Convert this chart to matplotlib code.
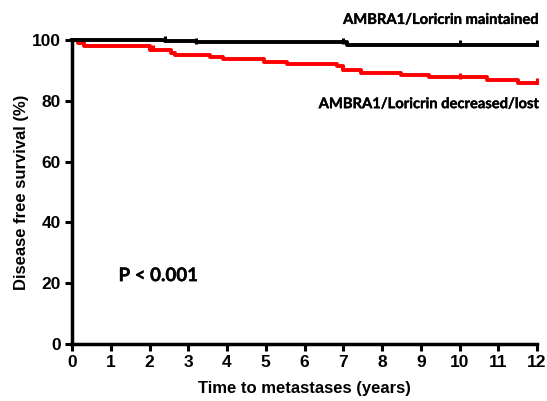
import matplotlib
matplotlib.use("Agg")
import matplotlib.pyplot as plt
import matplotlib.patheffects as pe

plt.rcParams['font.family'] = ['Liberation Sans', 'DejaVu Sans']

# step curves (time in years, survival in %)
maint_t = [0, 2.4, 3.2, 7.1, 12.0]
maint_s = [100, 99.6, 99.2, 98.5, 98.5]
maint_cens_t = [2.4, 3.2, 7.0, 10.0, 12.0]
maint_cens_s = [99.6, 99.2, 99.2, 98.5, 98.5]

lost_t = [0, 0.15, 0.3, 2.0, 2.55, 2.65, 3.55, 3.9, 4.95, 5.55, 6.85, 7.0, 7.45, 8.5, 9.2, 10.7, 11.5, 12.0]
lost_s = [100, 99.0, 98.0, 96.8, 95.8, 95.1, 94.3, 93.6, 92.9, 92.2, 91.3, 90.2, 89.3, 88.5, 87.7, 86.8, 85.8, 85.8]
lost_cens_t = [2.1, 7.0, 10.0, 12.0]
lost_cens_s = [96.8, 90.2, 87.7, 85.8]

fig = plt.figure(figsize=(5.47, 4.01), dpi=100)
ax = fig.add_axes([72/547, 1-344/401, 465/547, 304/401])

ax.step(maint_t, maint_s, where='post', color='black', lw=2.8, clip_on=False, zorder=4)
ax.plot(maint_cens_t, [s + 0.6 for s in maint_cens_s], ls='none', marker='|', ms=5,
        mew=2.2, color='black', clip_on=False, zorder=4)
ax.step(lost_t, lost_s, where='post', color='#ff0000', lw=2.8, clip_on=False, zorder=3)
ax.plot(lost_cens_t, [s + 0.6 for s in lost_cens_s], ls='none', marker='|', ms=5,
        mew=2.2, color='#ff0000', clip_on=False, zorder=3)

ax.set_xlim(0, 12)
ax.set_ylim(0, 100)
ax.set_xticks(range(0, 13))
ax.set_yticks(range(0, 101, 20))
for s in ['top', 'right']:
    ax.spines[s].set_visible(False)
for s in ['left', 'bottom']:
    ax.spines[s].set_linewidth(2.5)
ax.tick_params(width=2.2, length=5, labelsize=12.5, pad=3)
for lab in ax.get_xticklabels() + ax.get_yticklabels():
    lab.set_fontweight('bold')

ax.set_xlabel('Time to metastases (years)', fontsize=12, fontweight='bold', labelpad=8)
ax.set_ylabel('Disease free survival (%)', fontsize=12, fontweight='bold', labelpad=2)

note_font = ['Lato', 'DejaVu Sans']
thick = [pe.withStroke(linewidth=0.25, foreground='black')]
ax.text(12.07, 104.3, 'AMBRA1/Loricrin maintained', ha='right', va='bottom',
        fontsize=10.6, fontweight='bold', family=note_font, path_effects=thick)
ax.text(12.07, 81.2, 'AMBRA1/Loricrin decreased/lost', ha='right', va='top',
        fontsize=10.6, fontweight='bold', family=note_font, path_effects=thick)
ax.text(1.2, 22.5, 'P < 0.001', fontsize=13.5, fontweight='bold', va='center',
        family=note_font, path_effects=thick)

fig.savefig('out.png', dpi=100)
